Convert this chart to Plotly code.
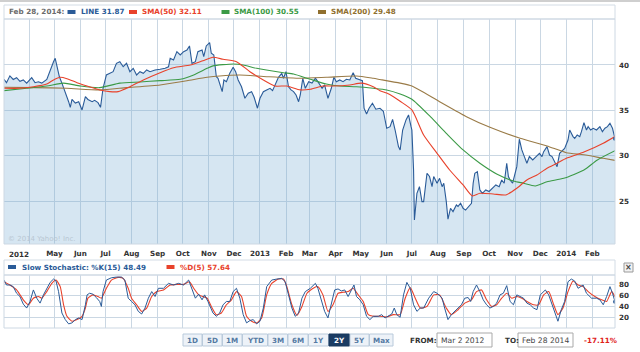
import plotly.graph_objects as go

# ---------------- data ----------------
price_dates = [
"2012-03-02","2012-03-05","2012-03-09","2012-03-13","2012-03-17","2012-03-21","2012-03-25","2012-03-29",
"2012-04-04","2012-04-08","2012-04-12","2012-04-16","2012-04-22","2012-04-26","2012-04-30","2012-05-02",
"2012-05-05","2012-05-07","2012-05-10","2012-05-14","2012-05-18","2012-05-20","2012-05-22","2012-05-26",
"2012-05-30","2012-06-03","2012-06-07","2012-06-10","2012-06-15","2012-06-18","2012-06-22","2012-06-25",
"2012-06-28","2012-07-02","2012-07-06","2012-07-10","2012-07-14","2012-07-18","2012-07-22","2012-07-26",
"2012-07-30","2012-08-03","2012-08-07","2012-08-11","2012-08-15","2012-08-19","2012-08-23","2012-08-29",
"2012-09-04","2012-09-10","2012-09-14","2012-09-16","2012-09-20","2012-09-24","2012-09-28","2012-10-02",
"2012-10-06","2012-10-09","2012-10-12","2012-10-16","2012-10-19","2012-10-24","2012-10-26","2012-10-29",
"2012-11-02","2012-11-04","2012-11-07","2012-11-10","2012-11-12","2012-11-14","2012-11-17","2012-11-19",
"2012-11-22","2012-11-26","2012-11-30","2012-12-03","2012-12-06","2012-12-10","2012-12-14","2012-12-18",
"2012-12-22","2012-12-25","2012-12-29","2013-01-01","2013-01-05","2013-01-09","2013-01-13","2013-01-16",
"2013-01-20","2013-01-23","2013-01-27","2013-01-29","2013-02-01","2013-02-04","2013-02-07","2013-02-10",
"2013-02-13","2013-02-16","2013-02-18","2013-02-21","2013-02-24","2013-02-28","2013-03-04","2013-03-08",
"2013-03-11","2013-03-16","2013-03-19","2013-03-23","2013-03-27","2013-03-30","2013-04-02","2013-04-06",
"2013-04-10","2013-04-14","2013-04-18","2013-04-22","2013-04-25","2013-04-29","2013-05-03","2013-05-05",
"2013-05-08","2013-05-11","2013-05-15","2013-05-19","2013-05-24","2013-05-28","2013-06-01","2013-06-05",
"2013-06-08","2013-06-11","2013-06-15","2013-06-17","2013-06-20","2013-06-24","2013-06-27","2013-06-30",
"2013-07-01","2013-07-03","2013-07-04","2013-07-07","2013-07-10","2013-07-13","2013-07-15","2013-07-19",
"2013-07-22","2013-07-25","2013-07-27","2013-07-31","2013-08-03","2013-08-06","2013-08-08","2013-08-11",
"2013-08-13","2013-08-16","2013-08-19","2013-08-23","2013-08-25","2013-08-28","2013-08-31","2013-09-03",
"2013-09-07","2013-09-10","2013-09-12","2013-09-14","2013-09-17","2013-09-20","2013-09-23","2013-09-27",
"2013-10-01","2013-10-05","2013-10-09","2013-10-13","2013-10-16","2013-10-19","2013-10-22","2013-10-24",
"2013-10-26","2013-10-29","2013-11-01","2013-11-03","2013-11-06","2013-11-09","2013-11-12","2013-11-15",
"2013-11-18","2013-11-22","2013-11-26","2013-11-30","2013-12-03","2013-12-05","2013-12-09","2013-12-12",
"2013-12-15","2013-12-17","2013-12-21","2013-12-24","2013-12-28","2013-12-30","2014-01-03","2014-01-05",
"2014-01-09","2014-01-11","2014-01-14","2014-01-17","2014-01-19","2014-01-22","2014-01-25","2014-01-27",
"2014-01-30","2014-02-02","2014-02-06","2014-02-10","2014-02-13","2014-02-16","2014-02-19","2014-02-22",
"2014-02-25","2014-02-27","2014-02-28"]
price_close = [
38.42,38.05,38.8,38.4,38.6,38.2,38.35,38.0,
38.6,38.05,38.15,38.0,38.4,39.45,40.36,40.74,
39.45,38.7,38.0,37.06,35.95,35.33,36.2,35.8,
35.95,35.04,36.5,36.2,35.95,36.1,35.85,35.33,
37.43,38.9,39.08,39.26,40.18,40.36,39.81,40.18,
39.26,39.63,38.9,39.26,39.08,39.45,39.26,39.45,
39.52,39.63,39.8,40.74,40.55,41.47,41.1,41.47,
41.65,42.1,40.18,40.36,41.47,41.65,40.92,42.1,
42.46,41.29,41.1,38.7,38.53,38.0,37.06,38.35,
38.16,39.08,39.74,39.26,38.35,37.6,36.33,36.88,
37.06,36.44,35.23,36.33,37.06,37.25,37.43,37.17,
38.0,38.64,39.08,38.53,39.26,37.6,37.25,37.06,
36.69,35.95,36.69,38.53,37.43,38.16,38.0,38.53,
38.16,37.43,37.8,36.33,37.43,38.64,38.16,38.35,
38.16,38.42,38.35,39.15,38.53,38.42,38.27,35.23,
34.6,35.23,35.78,35.12,35.23,34.9,33.02,33.2,
34.0,32.83,31.0,30.63,32.83,33.94,34.49,33.2,
32.83,28.42,22.9,25.85,26.58,24.93,24.93,28.06,
27.7,26.58,27.7,26.96,27.5,26.58,26.96,24.93,
22.99,24.2,23.83,24.56,24.4,24.75,24.2,24.0,
24.4,24.75,26.96,28.06,28.24,26.22,25.85,26.22,
26.05,26.4,26.77,26.58,27.32,26.96,29.16,27.7,
27.32,26.96,28.06,28.79,31.81,30.63,29.9,29.16,
29.9,29.53,29.9,30.26,29.9,30.44,31.0,30.07,
29.9,29.53,28.79,30.26,30.63,30.8,31.73,32.83,
32.1,31.9,32.28,32.1,32.65,33.64,32.83,33.2,
32.83,33.02,32.83,33.2,32.65,33.02,33.2,33.57,
33.02,32.1,31.87]

sma50_dates = [
"2012-03-02","2012-03-21","2012-04-06","2012-04-22","2012-04-30","2012-05-08","2012-05-16","2012-05-28",
"2012-06-09","2012-06-24","2012-07-06","2012-07-16","2012-07-30","2012-08-15","2012-09-04","2012-09-20",
"2012-10-10","2012-10-25","2012-11-06","2012-11-18","2012-12-04","2012-12-20","2013-01-05","2013-01-19",
"2013-02-02","2013-02-18","2013-03-02","2013-03-17","2013-03-29","2013-04-18","2013-05-02","2013-05-16",
"2013-05-24","2013-06-01","2013-06-09","2013-06-17","2013-07-01","2013-07-15","2013-07-31","2013-08-15",
"2013-08-31","2013-09-11","2013-09-20","2013-10-06","2013-10-21","2013-11-03","2013-11-15","2013-11-27",
"2013-12-09","2013-12-21","2014-01-01","2014-01-22","2014-02-14","2014-02-28"]
sma50_vals = [
37.43,37.43,37.6,37.9,38.35,38.64,38.49,38.05,
37.68,37.25,37.06,37.06,37.6,38.35,39.15,39.7,
40.0,40.47,40.85,40.63,40.36,39.26,38.35,37.68,
37.68,37.25,37.32,37.68,37.68,37.8,38.0,37.6,
37.17,36.9,36.5,36.0,35.04,32.28,30.26,28.42,
26.77,25.56,25.85,25.78,25.67,26.4,27.32,27.87,
28.61,29.16,29.71,30.4,31.37,32.11]

sma100_dates = [
"2012-03-02","2012-03-29","2012-04-22","2012-05-12","2012-06-01","2012-06-24","2012-07-18","2012-08-11",
"2012-09-04","2012-09-28","2012-10-14","2012-10-30","2012-11-06","2012-11-30","2012-12-12","2012-12-28",
"2013-01-29","2013-02-10","2013-03-02","2013-03-21","2013-04-06","2013-04-26","2013-05-16","2013-06-01",
"2013-06-17","2013-07-01","2013-07-23","2013-08-11","2013-08-31","2013-09-20","2013-10-10","2013-10-30",
"2013-11-11","2013-11-25","2013-12-09","2013-12-29","2014-01-22","2014-02-07","2014-02-28"]
sma100_vals = [
37.17,37.43,37.68,38.0,37.68,37.5,38.0,38.13,
38.27,38.42,38.9,39.63,39.9,40.11,40.0,39.63,
39.15,39.0,38.42,37.9,37.68,37.6,37.43,37.25,
36.8,36.22,34.3,32.47,30.63,29.16,27.98,27.21,
26.96,26.66,27.13,27.5,28.42,29.53,30.55]

sma200_dates = [
"2012-03-02","2012-04-06","2012-05-16","2012-06-24","2012-07-26","2012-09-04","2012-10-06","2012-10-30",
"2012-11-14","2012-12-08","2013-01-09","2013-02-18","2013-03-21","2013-04-26","2013-05-16","2013-05-24",
"2013-06-17","2013-07-01","2013-08-03","2013-09-04","2013-10-02","2013-11-07","2013-12-09","2014-01-01",
"2014-01-22","2014-02-14","2014-02-28"]
sma200_vals = [
37.54,37.5,37.43,37.25,37.5,37.8,38.27,38.64,
38.79,38.9,38.71,38.53,38.64,38.79,38.53,38.4,
38.0,37.68,35.95,34.3,33.13,31.92,31.07,30.33,
30.1,29.71,29.48]

stoch_k_dates = [
"2012-03-02","2012-03-05","2012-03-09","2012-03-13","2012-03-17","2012-03-21","2012-03-25","2012-03-29",
"2012-04-02","2012-04-06","2012-04-10","2012-04-14","2012-04-18","2012-04-22","2012-04-26","2012-04-30",
"2012-05-03","2012-05-06","2012-05-10","2012-05-14","2012-05-18","2012-05-22","2012-05-26","2012-05-30",
"2012-06-03","2012-06-07","2012-06-09","2012-06-12","2012-06-16","2012-06-20","2012-06-24","2012-06-26",
"2012-06-28","2012-07-02","2012-07-08","2012-07-14","2012-07-20","2012-07-24","2012-07-28","2012-08-01",
"2012-08-05","2012-08-09","2012-08-13","2012-08-17","2012-08-21","2012-08-25","2012-08-29","2012-09-02",
"2012-09-08","2012-09-14","2012-09-20","2012-09-26","2012-10-02","2012-10-08","2012-10-12","2012-10-16",
"2012-10-20","2012-10-24","2012-10-27","2012-10-31","2012-11-06","2012-11-10","2012-11-14","2012-11-18",
"2012-11-22","2012-11-26","2012-11-30","2012-12-04","2012-12-08","2012-12-12","2012-12-16","2012-12-20",
"2012-12-24","2012-12-28","2013-01-01","2013-01-05","2013-01-09","2013-01-15","2013-01-21","2013-01-27",
"2013-01-31","2013-02-04","2013-02-08","2013-02-12","2013-02-16","2013-02-20","2013-02-24","2013-03-02",
"2013-03-08","2013-03-11","2013-03-16","2013-03-19","2013-03-23","2013-03-27","2013-03-31","2013-04-04",
"2013-04-08","2013-04-12","2013-04-16","2013-04-20","2013-04-23","2013-04-26","2013-04-30","2013-05-04",
"2013-05-08","2013-05-12","2013-05-16","2013-05-22","2013-05-26","2013-05-30","2013-06-03","2013-06-07",
"2013-06-10","2013-06-13","2013-06-17","2013-06-21","2013-06-25","2013-06-29","2013-07-03","2013-07-07",
"2013-07-11","2013-07-15","2013-07-21","2013-07-27","2013-07-31","2013-08-06","2013-08-09","2013-08-13",
"2013-08-17","2013-08-23","2013-08-29","2013-09-02","2013-09-06","2013-09-09","2013-09-12","2013-09-16",
"2013-09-20","2013-09-24","2013-09-28","2013-10-02","2013-10-06","2013-10-10","2013-10-14","2013-10-18",
"2013-10-22","2013-10-26","2013-10-30","2013-11-03","2013-11-07","2013-11-11","2013-11-15","2013-11-19",
"2013-11-23","2013-11-27","2013-12-01","2013-12-07","2013-12-11","2013-12-15","2013-12-19","2013-12-22",
"2013-12-26","2013-12-30","2014-01-03","2014-01-07","2014-01-11","2014-01-15","2014-01-21","2014-01-25",
"2014-01-31","2014-02-06","2014-02-10","2014-02-14","2014-02-18","2014-02-22","2014-02-25","2014-02-28"]
stoch_k_vals = [
87.8,78.8,78.8,75.8,63.8,57.8,44,36.8,
48.8,69.8,54.8,45.8,60.8,72.8,83.6,89.6,
86,66.8,27.8,15.8,8,9.8,15.8,18.8,
15.8,42.8,60.8,63.8,62,56,48.8,39.8,
66.8,87.8,92,93.2,93.2,87.8,54.8,48.8,
42.8,30.8,26,36.8,54.8,66.8,57.8,72.8,
72.8,81.8,78.8,81.8,78.8,87.8,69.8,54.8,
62,51.8,60.8,48.8,27.8,21.8,27.8,42.8,
48.8,48.8,66.8,72.8,54.8,24.8,9.8,14,
15.8,8,12.8,36.8,75.8,87.8,89.6,90.8,
84.8,62.8,36.8,21.8,27.8,54.8,66.8,72.8,
81.8,72.8,48.8,30.8,18.8,42.8,69.8,71.6,
68,69.8,57.8,69.8,78.8,57.8,51.8,42.8,
21.8,15.8,21.8,21.8,24.8,18.8,21.8,26,
36.8,24.8,20,60.8,83.6,72.8,42.8,30.8,
36.8,36.8,54.8,66.8,63.8,54.8,36.8,15.8,
24.8,33.8,42.8,54.8,56,48.8,66.8,78.8,
66.8,51.8,42.8,36.8,39.8,45.8,60.8,63.8,
77.6,48.8,42.8,60.8,57.8,54.8,45.8,42.8,
36.8,33.8,60.8,69.8,60.8,42.8,24.8,12.8,
33.8,48.8,84.8,89.6,86,72.8,78.8,63.8,
54.8,54.8,51.8,42.8,57.8,75.8,63.8,48.49]

stoch_d_dates = [
"2012-03-02","2012-03-09","2012-03-17","2012-03-25","2012-03-31","2012-04-06","2012-04-12","2012-04-16",
"2012-04-22","2012-04-28","2012-05-03","2012-05-08","2012-05-12","2012-05-16","2012-05-22","2012-05-28",
"2012-06-03","2012-06-07","2012-06-10","2012-06-16","2012-06-22","2012-06-26","2012-07-02","2012-07-08",
"2012-07-16","2012-07-22","2012-07-28","2012-08-01","2012-08-07","2012-08-13","2012-08-19","2012-08-25",
"2012-08-31","2012-09-08","2012-09-16","2012-09-24","2012-10-02","2012-10-09","2012-10-14","2012-10-20",
"2012-10-25","2012-10-30","2012-11-04","2012-11-10","2012-11-16","2012-11-22","2012-11-28","2012-12-04",
"2012-12-10","2012-12-16","2012-12-22","2012-12-28","2013-01-03","2013-01-09","2013-01-15","2013-01-23",
"2013-01-29","2013-02-02","2013-02-08","2013-02-14","2013-02-20","2013-02-26","2013-03-06","2013-03-11",
"2013-03-17","2013-03-23","2013-03-29","2013-04-04","2013-04-10","2013-04-16","2013-04-22","2013-04-28",
"2013-05-04","2013-05-10","2013-05-16","2013-05-24","2013-06-01","2013-06-09","2013-06-17","2013-06-23",
"2013-06-29","2013-07-05","2013-07-11","2013-07-19","2013-07-27","2013-08-03","2013-08-11","2013-08-17",
"2013-08-25","2013-09-02","2013-09-10","2013-09-16","2013-09-22","2013-09-28","2013-10-04","2013-10-10",
"2013-10-16","2013-10-22","2013-10-28","2013-11-03","2013-11-09","2013-11-15","2013-11-23","2013-11-29",
"2013-12-05","2013-12-11","2013-12-17","2013-12-22","2013-12-28","2014-01-03","2014-01-09","2014-01-15",
"2014-01-21","2014-01-27","2014-02-04","2014-02-12","2014-02-18","2014-02-24","2014-02-28"]
stoch_d_vals = [
84.8,78.8,69.8,51.8,42.8,54.8,57.8,54.8,
66.8,81.8,87.8,75.8,42.8,21.8,12.8,15.8,
21.8,36.8,54.8,60.8,57.8,54.8,72.8,87.8,
92.6,90.8,72.8,54.8,42.8,30.8,36.8,57.8,
66.8,69.8,78.8,80,80,84.8,72.8,60.8,
57.8,54.8,39.8,24.8,27.8,42.8,51.8,66.8,
57.8,21.8,12.8,9.8,18.8,60.8,81.8,89.6,
89.6,75.8,42.8,23.6,39.8,63.8,73.5,75.8,
60.8,30.8,42.8,63.8,65.6,66.8,72.8,60.8,
48.8,24.8,21.8,21.8,20.6,24.8,24.8,54.8,
74,54.8,36.8,39.8,60.8,60.8,36.8,24.8,
33.8,45.8,51.8,66.8,69.8,51.8,39.8,42.8,
54.8,63.8,54.8,57.8,54.8,48.8,42.8,42.8,
60.8,66.8,42.8,24.8,36.8,66.8,86,78.8,
75.8,66.8,57.8,51.8,48.8,66.8,57.64]

month_ticks = [
"2012-04-01","2012-05-01","2012-06-01","2012-07-01","2012-08-01","2012-09-01","2012-10-01","2012-11-01",
"2012-12-01","2013-01-01","2013-02-01","2013-03-01","2013-04-01","2013-05-01","2013-06-01","2013-07-01",
"2013-08-01","2013-09-01","2013-10-01","2013-11-01","2013-12-01","2014-01-01","2014-02-01"]
month_labels = ["", "May", "Jun", "Jul", "Aug", "Sep", "Oct", "Nov", "Dec", "2013", "Feb", "Mar",
                "Apr", "May", "Jun", "Jul", "Aug", "Sep", "Oct", "Nov", "Dec", "2014", "Feb"]
price_ticks = [25, 30, 35, 40]
stoch_ticks = [20, 40, 60, 80]
range_buttons = ["1D", "5D", "1M", "YTD", "3M", "6M", "1Y", "2Y", "5Y", "Max"]

# ---------------- layout helpers ----------------
W, H = 640, 352
def PX(x): return x / W
def PY(y): return 1 - y / H

FONT = "DejaVu Sans"
GRID = "#cad7e3"
C_LINE = "#2a5b98"
C_50 = "#e8422b"
C_100 = "#3b9a46"
C_200 = "#9a7b47"

fig = go.Figure()

fig.add_trace(go.Scatter(x=price_dates, y=price_close, mode="lines", fill="tozeroy",
                         fillcolor="rgba(118,172,212,0.30)", line=dict(color=C_LINE, width=1.1),
                         xaxis="x", yaxis="y", hoverinfo="skip"))
fig.add_trace(go.Scatter(x=sma200_dates, y=sma200_vals, mode="lines", line=dict(color=C_200, width=1.1, shape="spline", smoothing=0.6),
                         xaxis="x", yaxis="y"))
fig.add_trace(go.Scatter(x=sma100_dates, y=sma100_vals, mode="lines", line=dict(color=C_100, width=1.1, shape="spline", smoothing=0.6),
                         xaxis="x", yaxis="y"))
fig.add_trace(go.Scatter(x=sma50_dates, y=sma50_vals, mode="lines", line=dict(color=C_50, width=1.1, shape="spline", smoothing=0.6),
                         xaxis="x", yaxis="y"))
fig.add_trace(go.Scatter(x=price_dates[-1:], y=price_close[-1:], mode="markers",
                         marker=dict(color=C_LINE, size=4), xaxis="x", yaxis="y"))

fig.add_trace(go.Scatter(x=stoch_d_dates, y=stoch_d_vals, mode="lines", line=dict(color=C_50, width=1.1, shape="spline", smoothing=0.5),
                         xaxis="x2", yaxis="y2"))
fig.add_trace(go.Scatter(x=stoch_k_dates, y=stoch_k_vals, mode="lines", line=dict(color=C_LINE, width=1.0),
                         xaxis="x2", yaxis="y2"))
fig.add_trace(go.Scatter(x=stoch_k_dates[-1:], y=stoch_k_vals[-1:], mode="markers",
                         marker=dict(color=C_LINE, size=4), xaxis="x2", yaxis="y2"))

tickfont = dict(family=FONT, size=7.2, color="#333333", weight="bold")
xrange_ = ["2012-03-02", "2014-02-28"]

fig.update_layout(
    width=W, height=H, margin=dict(l=0, r=0, t=0, b=0),
    paper_bgcolor="white", plot_bgcolor="white", showlegend=False,
    font=dict(family=FONT, size=7),
    xaxis=dict(domain=[PX(4), PX(615)], range=xrange_, type="date", anchor="y",
               tickmode="array", tickvals=month_ticks, ticktext=month_labels,
               showgrid=True, gridcolor=GRID, gridwidth=1, zeroline=False, showline=False,
               ticks="", tickfont=tickfont, ticklabelstandoff=4),
    yaxis=dict(domain=[PY(244), PY(19)], range=[20.26, 45.07], side="right", anchor="x",
               tickmode="array", tickvals=price_ticks, showgrid=True, gridcolor=GRID,
               zeroline=False, showline=False, ticks="", tickfont=tickfont, ticklabelstandoff=3),
    xaxis2=dict(domain=[PX(4), PX(615)], range=xrange_, type="date", anchor="y2",
                tickmode="array", tickvals=month_ticks, showticklabels=False,
                showgrid=True, gridcolor=GRID, zeroline=False, ticks=""),
    yaxis2=dict(domain=[PY(328), PY(275)], range=[0.5, 97], side="right", anchor="x2",
                tickmode="array", tickvals=stoch_ticks, showgrid=True, gridcolor=GRID,
                zeroline=False, ticks="", tickfont=tickfont, ticklabelstandoff=3),
)

shapes = []
def rect(x0, y0, x1, y1, line="#d3dce5", fill=None, w=1):
    shapes.append(dict(type="rect", xref="paper", yref="paper", x0=PX(x0), x1=PX(x1), y0=PY(y1), y1=PY(y0),
                       line=dict(color=line, width=w), fillcolor=fill if fill else "rgba(0,0,0,0)", layer="above"))

# top bar
shapes.append(dict(type="rect", xref="paper", yref="paper", x0=0, x1=1, y0=PY(2), y1=1,
                   line=dict(width=0), fillcolor="#cfcfcf"))
rect(4, 5, 615, 19)          # main legend box
rect(4, 19, 615, 244, line="#cdd8e3")   # main plot frame
rect(4, 260, 615, 275)       # stochastic legend box
rect(4, 275, 615, 328, line="#cdd8e3")  # stochastic frame
rect(624, 263, 633, 272, line="#9a9a9a", fill="#f2f2f2")  # close box

annotations = []
def text(x, y, s, color="#333333", size=7.2, bold=True, anchor="left"):
    annotations.append(dict(xref="paper", yref="paper", x=PX(x), y=PY(y), text=s, showarrow=False,
                            xanchor=anchor, yanchor="middle",
                            font=dict(family=FONT, size=size, color=color, weight="bold" if bold else "normal")))

def swatch(x, y, color):
    shapes.append(dict(type="rect", xref="paper", yref="paper", x0=PX(x), x1=PX(x + 8), y0=PY(y + 2), y1=PY(y - 2),
                       line=dict(width=0), fillcolor=color))

# main legend
text(7, 12, "Feb 28, 2014:", color="#6b6b6b")
swatch(67.5, 12, C_LINE); text(78.5, 12, "LINE 31.87", color=C_LINE)
swatch(129, 12, C_50); text(139.5, 12, "SMA(50) 32.11", color=C_50)
swatch(221.5, 12, C_100); text(232, 12, "SMA(100) 30.55", color=C_100)
swatch(318, 12, "#8f6f2e"); text(328.5, 12, "SMA(200) 29.48", color="#8f6f2e")

# 2012 label and copyright
text(7, 254, "2012", color="#333333")
text(6, 239, "© 2014 Yahoo! Inc.", color="#b9c6d2", size=7, bold=False)

# stochastic legend
swatch(8, 267, C_LINE); text(19.5, 267, "Slow Stochastic: %K(15) 48.49", color=C_LINE)
swatch(166.5, 267, C_50); text(177.5, 267, "%D(5) 57.64", color=C_50)
text(628.5, 267.5, "×", color="#444444", size=8, anchor="center")

# range buttons
edges = [183, 202.5, 222.5, 242.5, 268, 288, 308.5, 329, 350, 369.5, 393.5]
for i, lab in enumerate(range_buttons):
    sel = lab == "2Y"
    rect(edges[i], 334, edges[i + 1] - 0.5, 346, line="#b9cadb" if not sel else "#18385e",
         fill="#edf2f8" if not sel else "#1b3c63")
    text((edges[i] + edges[i + 1] - 0.5) / 2, 340, lab, color="white" if sel else "#557aa3",
         size=7.2, anchor="center")

text(408, 340, "FROM:", color="#333333")
rect(437, 333, 492, 347, line="#a9a9a9", fill="white")
text(439, 340, "Mar 2 2012", color="#444444", size=7.6, bold=False)
text(503, 340, "TO:", color="#333333")
rect(518, 333, 573, 347, line="#a9a9a9", fill="white")
text(520, 340, "Feb 28 2014", color="#444444", size=7.6, bold=False)
text(582, 340, "-17.11%", color="#e0201b")

fig.update_layout(shapes=shapes, annotations=annotations)
fig.write_html("out.html")
